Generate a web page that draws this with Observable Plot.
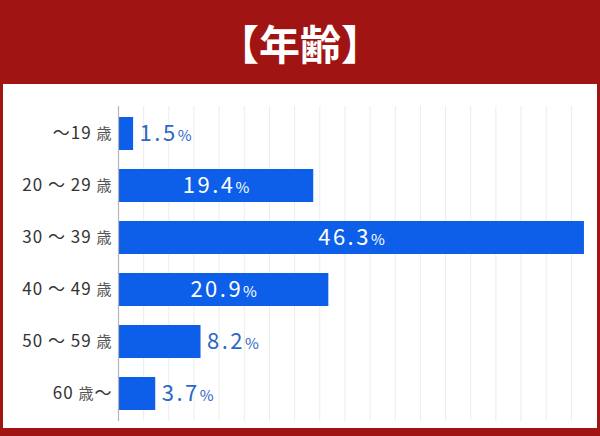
<!DOCTYPE html>
<html><head><meta charset="utf-8">
<script src="https://cdn.jsdelivr.net/npm/d3@7"></script>
<script src="https://cdn.jsdelivr.net/npm/@observablehq/plot@0.6"></script>
<style>
html,body{margin:0;padding:0;}
body{width:600px;height:436px;background:#a11414;position:relative;overflow:hidden;font-family:"Noto Sans CJK JP","Noto Sans",sans-serif;}
#title{position:absolute;left:0;top:0;width:600px;height:84px;line-height:84px;text-align:center;color:#fff;font-size:41px;font-weight:700;}
#panel{position:absolute;left:3px;top:84px;width:594px;height:344px;background:#fff;}
#chart{position:absolute;left:0;top:84px;}
</style></head><body>
<div id="title">【年齢】</div>
<div id="panel"></div>
<div id="chart"></div>
<script>
const ageGroups = ["～19 歳", "20 ～ 29 歳", "30 ～ 39 歳", "40 ～ 49 歳", "50 ～ 59 歳", "60 歳～"];
const shares = [1.5, 19.4, 46.3, 20.9, 8.2, 3.7];
const gridTicks = d3.range(2.5, 47, 2.5);
const insideThreshold = 15;

const data = ageGroups.map((g, i) => ({group: g, value: shares[i]}));
const fmt = d => d3.format(".1f")(d.value) + "%";

const plot = Plot.plot({
  width: 600,
  height: 344,
  marginLeft: 118,
  marginRight: 9,
  marginTop: 22,
  marginBottom: 7,
  style: {background: "transparent", fontFamily: "'Noto Sans CJK JP','Noto Sans',sans-serif"},
  x: {domain: [0, 47], axis: null},
  y: {domain: ageGroups, paddingInner: 0.373, paddingOuter: 0.18, label: null},
  marks: [
    Plot.ruleX(gridTicks, {stroke: "#ececec", strokeWidth: 1}),
    Plot.barX(data, {x: "value", y: "group", fill: "#0d5fea"}),
    Plot.ruleX([0], {stroke: "#b5b5b5", strokeWidth: 1.2}),
    Plot.axisY({tickSize: 0, tickPadding: 6, fontSize: 17, fill: "#333"}),
    Plot.text(data.filter(d => d.value >= insideThreshold), {
      x: d => d.value / 2, y: "group", text: fmt, fill: "#fff", fontSize: 22, textAnchor: "middle"
    }),
    Plot.text(data.filter(d => d.value < insideThreshold), {
      x: "value", y: "group", text: fmt, fill: "#2d67c4", fontSize: 22, textAnchor: "start", dx: 6
    })
  ]
});

// style value labels: smaller "%" and letter spacing
plot.querySelectorAll('g[aria-label="text"] text').forEach(t => {
  const s = t.textContent;
  if (s.endsWith("%")) {
    t.textContent = s.slice(0, -1);
    t.setAttribute("letter-spacing", "2.5");
    const ts = document.createElementNS("http://www.w3.org/2000/svg", "tspan");
    ts.setAttribute("font-size", "15");
    ts.setAttribute("letter-spacing", "0");
    ts.textContent = "%";
    t.appendChild(ts);
  }
});
// tick labels: smaller lighter 歳
plot.querySelectorAll('g[aria-label="y-axis tick label"] text').forEach(t => {
  const s = t.textContent;
  t.textContent = "";
  t.setAttribute("letter-spacing", "1");
  for (const ch of s) {
    const ts = document.createElementNS("http://www.w3.org/2000/svg", "tspan");
    ts.textContent = ch;
    if (ch === "歳") { ts.setAttribute("font-size", "15"); ts.setAttribute("fill", "#555"); }
    t.appendChild(ts);
  }
});

document.getElementById("chart").appendChild(plot);
</script>
</body></html>
